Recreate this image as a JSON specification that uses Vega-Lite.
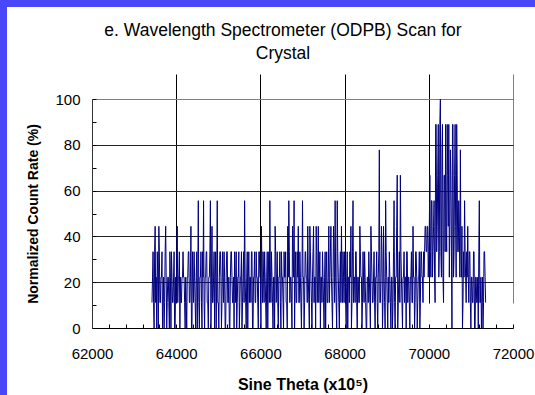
{
  "$schema": "https://vega.github.io/schema/vega-lite/v6.json",
  "width": 528,
  "height": 388,
  "autosize": {"type": "none"},
  "padding": {"left": 7, "top": 7, "right": 0, "bottom": 0},
  "background": "#4848f8",
  "config": {
    "view": {"fill": "white", "stroke": null},
    "font": "Liberation Sans",
    "axis": {"labelFont": "Liberation Sans", "titleFont": "Liberation Sans", "labelColor": "#000", "titleColor": "#000", "domainColor": "#000", "tickColor": "#000", "labelFontSize": 15, "titleFontWeight": "bold"}
  },
  "title": {
    "text": ["e. Wavelength Spectrometer (ODPB) Scan for", "Crystal"],
    "fontSize": 17.5,
    "fontWeight": "normal",
    "font": "Liberation Sans",
    "color": "#000",
    "anchor": "middle",
    "frame": "group",
    "dx": 12,
    "lineHeight": 23,
    "offset": -55
  },
  "data": {
    "values": [
      {"x":63425,"y":11.1},{"x":63450,"y":33.3},{"x":63475,"y":0},{"x":63500,"y":44.4},{"x":63525,"y":22.2},{"x":63550,"y":33.3},{"x":63575,"y":0},{"x":63600,"y":33.3},{"x":63625,"y":11.1},{"x":63650,"y":22.2},{"x":63675,"y":0},{"x":63700,"y":22.2},{"x":63725,"y":11.1},{"x":63750,"y":44.4},{"x":63775,"y":0},{"x":63800,"y":22.2},{"x":63825,"y":11.1},{"x":63850,"y":33.3},{"x":63875,"y":0},{"x":63900,"y":22.2},
      {"x":63925,"y":11.1},{"x":63950,"y":33.3},{"x":63975,"y":0},{"x":64000,"y":11.1},{"x":64025,"y":44.4},{"x":64050,"y":22.2},{"x":64075,"y":33.3},{"x":64100,"y":22.2},{"x":64125,"y":11.1},{"x":64150,"y":22.2},{"x":64175,"y":22.2},{"x":64200,"y":11.1},{"x":64225,"y":22.2},{"x":64250,"y":0},{"x":64275,"y":22.2},{"x":64300,"y":33.3},{"x":64325,"y":11.1},{"x":64350,"y":44.4},{"x":64375,"y":0},{"x":64400,"y":22.2},
      {"x":64425,"y":33.3},{"x":64450,"y":11.1},{"x":64475,"y":22.2},{"x":64500,"y":0},{"x":64525,"y":55.6},{"x":64550,"y":0},{"x":64575,"y":22.2},{"x":64600,"y":11.1},{"x":64625,"y":33.3},{"x":64650,"y":55.6},{"x":64675,"y":0},{"x":64700,"y":22.2},{"x":64725,"y":33.3},{"x":64750,"y":11.1},{"x":64775,"y":22.2},{"x":64800,"y":33.3},{"x":64825,"y":0},{"x":64850,"y":44.4},{"x":64875,"y":11.1},{"x":64900,"y":33.3},
      {"x":64925,"y":22.2},{"x":64950,"y":0},{"x":64975,"y":55.6},{"x":65000,"y":11.1},{"x":65025,"y":22.2},{"x":65050,"y":33.3},{"x":65075,"y":0},{"x":65100,"y":33.3},{"x":65125,"y":11.1},{"x":65150,"y":22.2},{"x":65175,"y":0},{"x":65200,"y":33.3},{"x":65225,"y":11.1},{"x":65250,"y":22.2},{"x":65275,"y":0},{"x":65300,"y":33.3},{"x":65325,"y":22.2},{"x":65350,"y":11.1},{"x":65375,"y":0},{"x":65400,"y":22.2},
      {"x":65425,"y":33.3},{"x":65450,"y":11.1},{"x":65475,"y":22.2},{"x":65500,"y":0},{"x":65525,"y":22.2},{"x":65550,"y":33.3},{"x":65575,"y":11.1},{"x":65600,"y":33.3},{"x":65625,"y":55.6},{"x":65650,"y":11.1},{"x":65675,"y":22.2},{"x":65700,"y":0},{"x":65725,"y":33.3},{"x":65750,"y":22.2},{"x":65775,"y":11.1},{"x":65800,"y":33.3},{"x":65825,"y":0},{"x":65850,"y":22.2},{"x":65875,"y":11.1},{"x":65900,"y":33.3},
      {"x":65925,"y":22.2},{"x":65950,"y":0},{"x":65975,"y":33.3},{"x":66000,"y":22.2},{"x":66025,"y":44.4},{"x":66050,"y":11.1},{"x":66075,"y":22.2},{"x":66100,"y":33.3},{"x":66125,"y":11.1},{"x":66150,"y":22.2},{"x":66175,"y":0},{"x":66200,"y":33.3},{"x":66225,"y":55.6},{"x":66250,"y":11.1},{"x":66275,"y":22.2},{"x":66300,"y":0},{"x":66325,"y":22.2},{"x":66350,"y":44.4},{"x":66375,"y":11.1},{"x":66400,"y":33.3},
      {"x":66425,"y":0},{"x":66450,"y":22.2},{"x":66475,"y":11.1},{"x":66500,"y":33.3},{"x":66525,"y":22.2},{"x":66550,"y":0},{"x":66575,"y":22.2},{"x":66600,"y":33.3},{"x":66625,"y":11.1},{"x":66650,"y":44.4},{"x":66675,"y":55.6},{"x":66700,"y":11.1},{"x":66725,"y":22.2},{"x":66750,"y":0},{"x":66775,"y":33.3},{"x":66800,"y":55.6},{"x":66825,"y":22.2},{"x":66850,"y":11.1},{"x":66875,"y":33.3},{"x":66900,"y":44.4},
      {"x":66925,"y":11.1},{"x":66950,"y":22.2},{"x":66975,"y":0},{"x":67000,"y":55.6},{"x":67025,"y":22.2},{"x":67050,"y":11.1},{"x":67075,"y":33.3},{"x":67100,"y":22.2},{"x":67125,"y":44.4},{"x":67150,"y":11.1},{"x":67175,"y":44.4},{"x":67200,"y":22.2},{"x":67225,"y":0},{"x":67250,"y":33.3},{"x":67275,"y":11.1},{"x":67300,"y":22.2},{"x":67325,"y":44.4},{"x":67350,"y":11.1},{"x":67375,"y":44.4},{"x":67400,"y":22.2},
      {"x":67425,"y":0},{"x":67450,"y":22.2},{"x":67475,"y":33.3},{"x":67500,"y":11.1},{"x":67525,"y":22.2},{"x":67550,"y":0},{"x":67575,"y":33.3},{"x":67600,"y":11.1},{"x":67625,"y":44.4},{"x":67650,"y":22.2},{"x":67675,"y":44.4},{"x":67700,"y":11.1},{"x":67725,"y":22.2},{"x":67750,"y":33.3},{"x":67775,"y":55.6},{"x":67800,"y":11.1},{"x":67825,"y":55.6},{"x":67850,"y":22.2},{"x":67875,"y":0},{"x":67900,"y":33.3},
      {"x":67925,"y":44.4},{"x":67950,"y":11.1},{"x":67975,"y":22.2},{"x":68000,"y":33.3},{"x":68025,"y":11.1},{"x":68050,"y":22.2},{"x":68075,"y":0},{"x":68100,"y":22.2},{"x":68125,"y":33.3},{"x":68150,"y":44.4},{"x":68175,"y":11.1},{"x":68200,"y":55.6},{"x":68225,"y":22.2},{"x":68250,"y":11.1},{"x":68275,"y":33.3},{"x":68300,"y":0},{"x":68325,"y":22.2},{"x":68350,"y":11.1},{"x":68375,"y":33.3},{"x":68400,"y":22.2},
      {"x":68425,"y":11.1},{"x":68450,"y":22.2},{"x":68475,"y":33.3},{"x":68500,"y":11.1},{"x":68525,"y":0},{"x":68550,"y":22.2},{"x":68575,"y":33.3},{"x":68600,"y":11.1},{"x":68625,"y":44.4},{"x":68650,"y":22.2},{"x":68675,"y":11.1},{"x":68700,"y":33.3},{"x":68725,"y":0},{"x":68750,"y":22.2},{"x":68775,"y":11.1},{"x":68800,"y":22.2},{"x":68825,"y":77.8},{"x":68850,"y":11.1},{"x":68875,"y":44.4},{"x":68900,"y":0},
      {"x":68925,"y":44.4},{"x":68950,"y":11.1},{"x":68975,"y":55.6},{"x":69000,"y":22.2},{"x":69025,"y":0},{"x":69050,"y":11.1},{"x":69075,"y":22.2},{"x":69100,"y":0},{"x":69125,"y":22.2},{"x":69150,"y":11.1},{"x":69175,"y":55.6},{"x":69200,"y":0},{"x":69225,"y":22.2},{"x":69250,"y":66.7},{"x":69275,"y":11.1},{"x":69300,"y":33.3},{"x":69325,"y":66.7},{"x":69350,"y":22.2},{"x":69375,"y":0},{"x":69400,"y":22.2},
      {"x":69425,"y":11.1},{"x":69450,"y":22.2},{"x":69475,"y":33.3},{"x":69500,"y":11.1},{"x":69525,"y":22.2},{"x":69550,"y":0},{"x":69575,"y":22.2},{"x":69600,"y":11.1},{"x":69625,"y":44.4},{"x":69650,"y":22.2},{"x":69675,"y":11.1},{"x":69700,"y":33.3},{"x":69725,"y":0},{"x":69750,"y":22.2},{"x":69775,"y":33.3},{"x":69800,"y":11.1},{"x":69825,"y":33.3},{"x":69850,"y":22.2},{"x":69875,"y":33.3},{"x":69900,"y":33.3},
      {"x":69925,"y":44.4},{"x":69950,"y":33.3},{"x":69975,"y":44.4},{"x":70000,"y":33.3},{"x":70025,"y":66.7},{"x":70050,"y":22.2},{"x":70075,"y":55.6},{"x":70100,"y":33.3},{"x":70125,"y":55.6},{"x":70150,"y":11.1},{"x":70175,"y":88.9},{"x":70200,"y":44.4},{"x":70225,"y":88.9},{"x":70250,"y":33.3},{"x":70275,"y":100},{"x":70300,"y":22.2},{"x":70325,"y":88.9},{"x":70350,"y":11.1},{"x":70375,"y":66.7},{"x":70400,"y":88.9},
      {"x":70425,"y":33.3},{"x":70450,"y":66.7},{"x":70475,"y":88.9},{"x":70500,"y":44.4},{"x":70525,"y":66.7},{"x":70550,"y":0},{"x":70575,"y":88.9},{"x":70600,"y":33.3},{"x":70625,"y":88.9},{"x":70650,"y":22.2},{"x":70675,"y":66.7},{"x":70700,"y":33.3},{"x":70725,"y":44.4},{"x":70750,"y":77.8},{"x":70775,"y":22.2},{"x":70800,"y":0},{"x":70825,"y":33.3},{"x":70850,"y":55.6},{"x":70875,"y":22.2},{"x":70900,"y":33.3},
      {"x":70925,"y":44.4},{"x":70950,"y":11.1},{"x":70975,"y":33.3},{"x":71000,"y":0},{"x":71025,"y":22.2},{"x":71050,"y":11.1},{"x":71075,"y":33.3},{"x":71100,"y":0},{"x":71125,"y":22.2},{"x":71150,"y":11.1},{"x":71175,"y":0},{"x":71200,"y":55.6},{"x":71225,"y":11.1},{"x":71250,"y":0},{"x":71275,"y":22.2},{"x":71300,"y":11.1},{"x":71325,"y":33.3},{"x":71350,"y":11.1},
      {"x":63437.5,"y":22.2},{"x":63462.5,"y":11.1},{"x":63487.5,"y":33.3},{"x":63512.5,"y":11.1},{"x":63537.5,"y":0},{"x":63562.5,"y":22.2},{"x":63587.5,"y":44.4},{"x":63612.5,"y":11.1},{"x":63637.5,"y":22.2},{"x":63662.5,"y":33.3},{"x":63687.5,"y":11.1},{"x":63712.5,"y":0},{"x":63737.5,"y":33.3},{"x":63762.5,"y":22.2},{"x":63787.5,"y":11.1},{"x":63812.5,"y":22.2},{"x":63837.5,"y":0},{"x":63862.5,"y":22.2},{"x":63887.5,"y":33.3},{"x":63912.5,"y":11.1},
      {"x":63937.5,"y":22.2},{"x":63962.5,"y":0},{"x":63987.5,"y":22.2},{"x":64012.5,"y":33.3},{"x":64037.5,"y":11.1},{"x":64062.5,"y":22.2},{"x":64087.5,"y":0},{"x":64112.5,"y":11.1},{"x":64137.5,"y":22.2},{"x":64162.5,"y":33.3},{"x":64187.5,"y":22.2},{"x":64212.5,"y":0},{"x":64237.5,"y":11.1},{"x":64262.5,"y":22.2},{"x":64287.5,"y":33.3},{"x":64312.5,"y":11.1},{"x":64337.5,"y":22.2},{"x":64362.5,"y":0},{"x":64387.5,"y":33.3},{"x":64412.5,"y":11.1},
      {"x":64437.5,"y":22.2},{"x":64462.5,"y":0},{"x":64487.5,"y":33.3},{"x":64512.5,"y":22.2},{"x":64537.5,"y":11.1},{"x":64562.5,"y":22.2},{"x":64587.5,"y":33.3},{"x":64612.5,"y":0},{"x":64637.5,"y":22.2},{"x":64662.5,"y":11.1},{"x":64687.5,"y":22.2},{"x":64712.5,"y":33.3},{"x":64737.5,"y":11.1},{"x":64762.5,"y":0},{"x":64787.5,"y":22.2},{"x":64812.5,"y":55.6},{"x":64837.5,"y":22.2},{"x":64862.5,"y":11.1},{"x":64887.5,"y":22.2},{"x":64912.5,"y":0},
      {"x":64937.5,"y":33.3},{"x":64962.5,"y":22.2},{"x":64987.5,"y":11.1},{"x":65012.5,"y":0},{"x":65037.5,"y":33.3},{"x":65062.5,"y":22.2},{"x":65087.5,"y":11.1},{"x":65112.5,"y":22.2},{"x":65137.5,"y":33.3},{"x":65162.5,"y":0},{"x":65187.5,"y":22.2},{"x":65212.5,"y":33.3},{"x":65237.5,"y":11.1},{"x":65262.5,"y":0},{"x":65287.5,"y":22.2},{"x":65312.5,"y":33.3},{"x":65337.5,"y":11.1},{"x":65362.5,"y":22.2},{"x":65387.5,"y":33.3},{"x":65412.5,"y":11.1},
      {"x":65437.5,"y":0},{"x":65462.5,"y":22.2},{"x":65487.5,"y":33.3},{"x":65512.5,"y":11.1},{"x":65537.5,"y":22.2},{"x":65562.5,"y":0},{"x":65587.5,"y":22.2},{"x":65612.5,"y":11.1},{"x":65637.5,"y":22.2},{"x":65662.5,"y":0},{"x":65687.5,"y":33.3},{"x":65712.5,"y":22.2},{"x":65737.5,"y":11.1},{"x":65762.5,"y":22.2},{"x":65787.5,"y":33.3},{"x":65812.5,"y":0},{"x":65837.5,"y":22.2},{"x":65862.5,"y":33.3},{"x":65887.5,"y":11.1},{"x":65912.5,"y":22.2},
      {"x":65937.5,"y":11.1},{"x":65962.5,"y":33.3},{"x":65987.5,"y":22.2},{"x":66012.5,"y":0},{"x":66037.5,"y":22.2},{"x":66062.5,"y":33.3},{"x":66087.5,"y":11.1},{"x":66112.5,"y":22.2},{"x":66137.5,"y":0},{"x":66162.5,"y":33.3},{"x":66187.5,"y":22.2},{"x":66212.5,"y":11.1},{"x":66237.5,"y":22.2},{"x":66262.5,"y":33.3},{"x":66287.5,"y":11.1},{"x":66312.5,"y":22.2},{"x":66337.5,"y":0},{"x":66362.5,"y":33.3},{"x":66387.5,"y":22.2},{"x":66412.5,"y":11.1},
      {"x":66437.5,"y":22.2},{"x":66462.5,"y":33.3},{"x":66487.5,"y":0},{"x":66512.5,"y":22.2},{"x":66537.5,"y":11.1},{"x":66562.5,"y":33.3},{"x":66587.5,"y":22.2},{"x":66612.5,"y":11.1},{"x":66637.5,"y":0},{"x":66662.5,"y":22.2},{"x":66687.5,"y":33.3},{"x":66712.5,"y":22.2},{"x":66737.5,"y":11.1},{"x":66762.5,"y":44.4},{"x":66787.5,"y":22.2},{"x":66812.5,"y":0},{"x":66837.5,"y":33.3},{"x":66862.5,"y":11.1},{"x":66887.5,"y":22.2},{"x":66912.5,"y":11.1},
      {"x":66937.5,"y":33.3},{"x":66962.5,"y":11.1},{"x":66987.5,"y":22.2},{"x":67012.5,"y":22.2},{"x":67037.5,"y":0},{"x":67062.5,"y":33.3},{"x":67087.5,"y":22.2},{"x":67112.5,"y":11.1},{"x":67137.5,"y":22.2},{"x":67162.5,"y":0},{"x":67187.5,"y":33.3},{"x":67212.5,"y":11.1},{"x":67237.5,"y":22.2},{"x":67262.5,"y":44.4},{"x":67287.5,"y":22.2},{"x":67312.5,"y":0},{"x":67337.5,"y":33.3},{"x":67362.5,"y":22.2},{"x":67387.5,"y":11.1},{"x":67412.5,"y":33.3},
      {"x":67437.5,"y":22.2},{"x":67462.5,"y":11.1},{"x":67487.5,"y":22.2},{"x":67512.5,"y":0},{"x":67537.5,"y":33.3},{"x":67562.5,"y":22.2},{"x":67587.5,"y":11.1},{"x":67612.5,"y":22.2},{"x":67637.5,"y":11.1},{"x":67662.5,"y":33.3},{"x":67687.5,"y":22.2},{"x":67712.5,"y":0},{"x":67737.5,"y":44.4},{"x":67762.5,"y":11.1},{"x":67787.5,"y":22.2},{"x":67812.5,"y":0},{"x":67837.5,"y":33.3},{"x":67862.5,"y":11.1},{"x":67887.5,"y":22.2},{"x":67912.5,"y":11.1},
      {"x":67937.5,"y":22.2},{"x":67962.5,"y":33.3},{"x":67987.5,"y":11.1},{"x":68012.5,"y":22.2},{"x":68037.5,"y":0},{"x":68062.5,"y":33.3},{"x":68087.5,"y":22.2},{"x":68112.5,"y":11.1},{"x":68137.5,"y":22.2},{"x":68162.5,"y":0},{"x":68187.5,"y":33.3},{"x":68212.5,"y":11.1},{"x":68237.5,"y":22.2},{"x":68262.5,"y":33.3},{"x":68287.5,"y":11.1},{"x":68312.5,"y":22.2},{"x":68337.5,"y":11.1},{"x":68362.5,"y":44.4},{"x":68387.5,"y":22.2},{"x":68412.5,"y":0},
      {"x":68437.5,"y":33.3},{"x":68462.5,"y":11.1},{"x":68487.5,"y":22.2},{"x":68512.5,"y":0},{"x":68537.5,"y":22.2},{"x":68562.5,"y":11.1},{"x":68587.5,"y":22.2},{"x":68612.5,"y":0},{"x":68637.5,"y":33.3},{"x":68662.5,"y":11.1},{"x":68687.5,"y":22.2},{"x":68712.5,"y":11.1},{"x":68737.5,"y":22.2},{"x":68762.5,"y":33.3},{"x":68787.5,"y":0},{"x":68812.5,"y":33.3},{"x":68837.5,"y":11.1},{"x":68862.5,"y":22.2},{"x":68887.5,"y":33.3},{"x":68912.5,"y":11.1},
      {"x":68937.5,"y":22.2},{"x":68962.5,"y":0},{"x":68987.5,"y":33.3},{"x":69012.5,"y":11.1},{"x":69037.5,"y":22.2},{"x":69062.5,"y":33.3},{"x":69087.5,"y":11.1},{"x":69112.5,"y":22.2},{"x":69137.5,"y":0},{"x":69162.5,"y":33.3},{"x":69187.5,"y":11.1},{"x":69212.5,"y":22.2},{"x":69237.5,"y":44.4},{"x":69262.5,"y":0},{"x":69287.5,"y":22.2},{"x":69312.5,"y":11.1},{"x":69337.5,"y":33.3},{"x":69362.5,"y":11.1},{"x":69387.5,"y":22.2},{"x":69412.5,"y":33.3},
      {"x":69437.5,"y":22.2},{"x":69462.5,"y":0},{"x":69487.5,"y":33.3},{"x":69512.5,"y":22.2},{"x":69537.5,"y":11.1},{"x":69562.5,"y":22.2},{"x":69587.5,"y":33.3},{"x":69612.5,"y":11.1},{"x":69637.5,"y":22.2},{"x":69662.5,"y":0},{"x":69687.5,"y":33.3},{"x":69712.5,"y":22.2},{"x":69737.5,"y":11.1},{"x":69762.5,"y":22.2},{"x":69787.5,"y":0},{"x":69812.5,"y":33.3},{"x":69837.5,"y":22.2},{"x":69862.5,"y":11.1},{"x":69887.5,"y":22.2},{"x":69912.5,"y":44.4},
      {"x":69937.5,"y":33.3},{"x":69962.5,"y":44.4},{"x":69987.5,"y":22.2},{"x":70012.5,"y":44.4},{"x":70037.5,"y":33.3},{"x":70062.5,"y":55.6},{"x":70087.5,"y":22.2},{"x":70112.5,"y":44.4},{"x":70137.5,"y":22.2},{"x":70162.5,"y":88.9},{"x":70187.5,"y":33.3},{"x":70212.5,"y":66.7},{"x":70237.5,"y":22.2},{"x":70262.5,"y":88.9},{"x":70287.5,"y":33.3},{"x":70312.5,"y":77.8},{"x":70337.5,"y":22.2},{"x":70362.5,"y":66.7},{"x":70387.5,"y":33.3},{"x":70412.5,"y":44.4},
      {"x":70437.5,"y":88.9},{"x":70462.5,"y":44.4},{"x":70487.5,"y":22.2},{"x":70512.5,"y":77.8},{"x":70537.5,"y":33.3},{"x":70562.5,"y":88.9},{"x":70587.5,"y":22.2},{"x":70612.5,"y":66.7},{"x":70637.5,"y":44.4},{"x":70662.5,"y":88.9},{"x":70687.5,"y":33.3},{"x":70712.5,"y":55.6},{"x":70737.5,"y":22.2},{"x":70762.5,"y":33.3},{"x":70787.5,"y":44.4},{"x":70812.5,"y":11.1},{"x":70837.5,"y":22.2},{"x":70862.5,"y":33.3},{"x":70887.5,"y":11.1},{"x":70912.5,"y":22.2},
      {"x":70937.5,"y":22.2},{"x":70962.5,"y":33.3},{"x":70987.5,"y":11.1},{"x":71012.5,"y":22.2},{"x":71037.5,"y":11.1},{"x":71062.5,"y":33.3},{"x":71087.5,"y":0},{"x":71112.5,"y":22.2},{"x":71137.5,"y":11.1},{"x":71162.5,"y":22.2},{"x":71187.5,"y":33.3},{"x":71212.5,"y":11.1},{"x":71237.5,"y":22.2},{"x":71262.5,"y":11.1},{"x":71287.5,"y":0},{"x":71312.5,"y":33.3},{"x":71337.5,"y":22.2}
    ]
  },
  "mark": {"type": "line", "color": "#000080", "strokeWidth": 1, "interpolate": "linear"},
  "encoding": {
    "x": {
      "field": "x",
      "type": "quantitative",
      "scale": {"domain": [62000, 72000], "range": [85, 506], "nice": false, "zero": false},
      "axis": {
        "title": "Sine Theta (x10⁵)",
        "titleFontSize": 16,
        "offset": -67,
        "values": [62000,62400,62800,63200,63600,64000,64400,64800,65200,65600,66000,66400,66800,67200,67600,68000,68400,68800,69200,69600,70000,70400,70800,71200,71600,72000],
        "labelExpr": "datum.value % 2000 === 0 ? format(datum.value, 'd') : ''",
        "labelOverlap": false,
        "labelFlush": false,
        "tickSize": -4,
        "labelPadding": 22,
        "titlePadding": 15,
        "grid": true,
        "gridColor": {"condition": {"test": "datum.value === 72000", "value": "#808080"}, "value": "#000"},
        "gridOpacity": {"condition": {"test": "datum.value % 2000 === 0 && datum.value > 62000", "value": 1}, "value": 0},
        "gridWidth": 1
      }
    },
    "y": {
      "field": "y",
      "type": "quantitative",
      "scale": {"domain": [0, 100], "range": [321, 92], "nice": false},
      "axis": {
        "title": "Normalized Count Rate (%)",
        "titleFontSize": 14,
        "offset": -85,
        "values": [0,10,20,30,40,50,60,70,80,90,100],
        "labelExpr": "datum.value % 20 === 0 ? format(datum.value, 'd') : ''",
        "labelOverlap": false,
        "labelFlush": false,
        "tickSize": -4,
        "labelPadding": 16,
        "titlePadding": 14,
        "domainColor": "#333",
        "grid": true,
        "gridColor": {"condition": {"test": "datum.value === 100", "value": "#808080"}, "value": "#222"},
        "gridOpacity": {"condition": {"test": "datum.value % 20 === 0 && datum.value > 0", "value": 1}, "value": 0},
        "gridWidth": 1
      }
    }
  }
}
